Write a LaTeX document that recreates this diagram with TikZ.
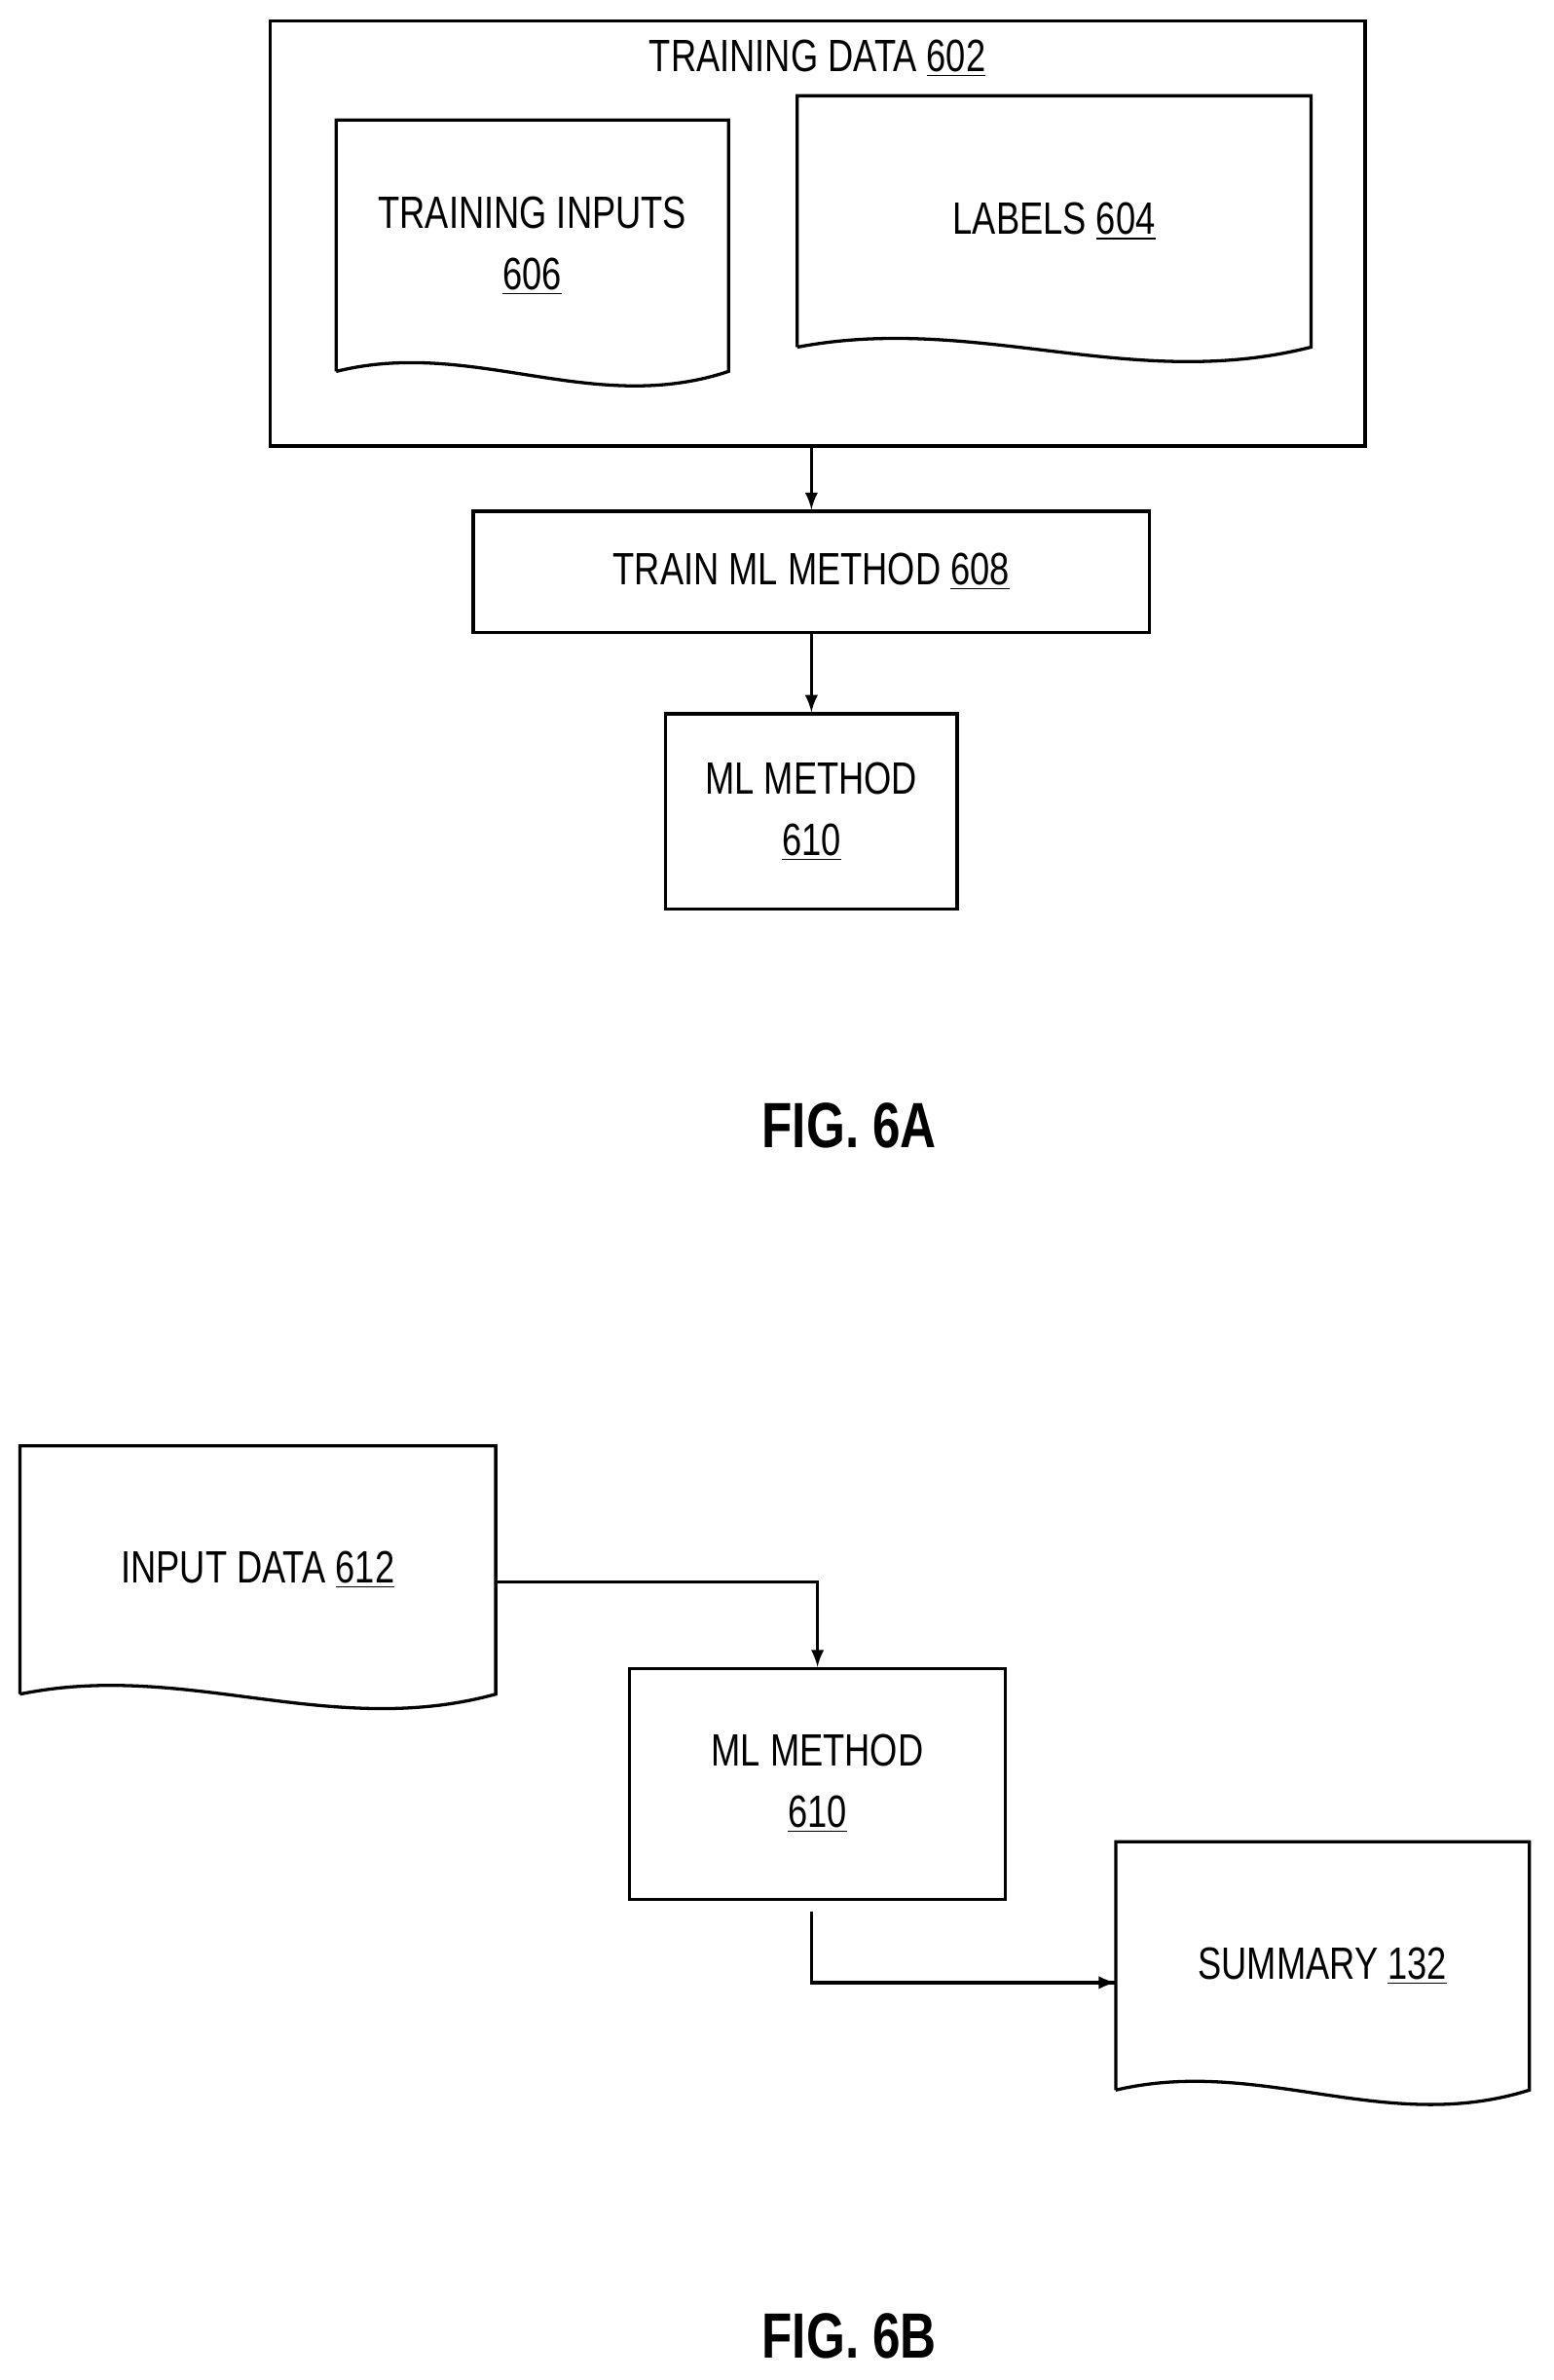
\documentclass[tikz,border=0pt]{standalone}
\usepackage{fontspec}
\setmainfont{Liberation Sans}[FakeStretch=0.78]
\usetikzlibrary{positioning}
\tikzset{
  box/.style={draw, line width=1.2pt, align=center, inner sep=0pt},
  doc/.style={align=center, inner sep=0pt},
  conn/.style={line width=1.2pt, -latex},
  lbl/.style={font=\fontsize{17}{23}\selectfont}
}
\newcommand{\docoutline}[1]{%
  \draw[line width=1.2pt] (#1.south west) -- (#1.north west) -- (#1.north east) -- (#1.south east)
    .. controls ([xshift=-0.35*\docw,yshift=-0.6cm]#1.south east) and ([xshift=0.35*\docw,yshift=0.45cm]#1.south west) .. (#1.south west);}
\newlength{\docw}
\begin{document}
\begin{tikzpicture}[x=0.02cm, y=-0.02cm, lbl]
\useasboundingbox (0,0) rectangle (1024,1569);
% FIG. 6A
\node[box, minimum width=722*0.02cm, minimum height=280*0.02cm] (data) at (539,154) {};
\node[anchor=north] (datalbl) at (539,20) {TRAINING DATA \underline{602}};
\node[doc, minimum width=258*0.02cm, minimum height=165*0.02cm] (inputs) at (351,162) {TRAINING INPUTS\\\underline{606}};
\setlength{\docw}{5.16cm}\docoutline{inputs}
\node[doc, minimum width=338*0.02cm, minimum height=165*0.02cm] (labels) at (695,146) {LABELS \underline{604}};
\setlength{\docw}{6.76cm}\docoutline{labels}
\node[box, minimum width=446*0.02cm, minimum height=80*0.02cm] (train) at (535,377) {TRAIN ML METHOD \underline{608}};
\node[box, minimum width=192*0.02cm, minimum height=129*0.02cm] (mla) at (535,535) {ML METHOD\\\underline{610}};
\draw[conn] (data.south -| train) -- (train);
\draw[conn] (train) -- (mla);
\node[font=\fontsize{24}{28}\selectfont\bfseries] (figa) at (560,742) {FIG. 6A};
% FIG. 6B
\node[doc, minimum width=313*0.02cm, minimum height=163*0.02cm] (input) at (170,1035) {INPUT DATA \underline{612}};
\setlength{\docw}{6.26cm}\docoutline{input}
\node[box, minimum width=248*0.02cm, minimum height=152*0.02cm] (mlb) at (539,1176) {ML METHOD\\\underline{610}};
\node[doc, minimum width=272*0.02cm, minimum height=163*0.02cm] (summary) at (872,1296) {SUMMARY \underline{132}};
\setlength{\docw}{5.44cm}\docoutline{summary}
\coordinate (mlbout) at (535,1260);
\draw[conn] (input.east |- 0,1043) -| (mlb.north);
\draw[line width=1.2pt] (mlbout) |- (summary.west |- 0,1307);
\draw[conn] (700,1307) -- (summary.west |- 0,1307);
\node[font=\fontsize{24}{28}\selectfont\bfseries] (figb) at (560,1540) {FIG. 6B};
\end{tikzpicture}
\end{document}
